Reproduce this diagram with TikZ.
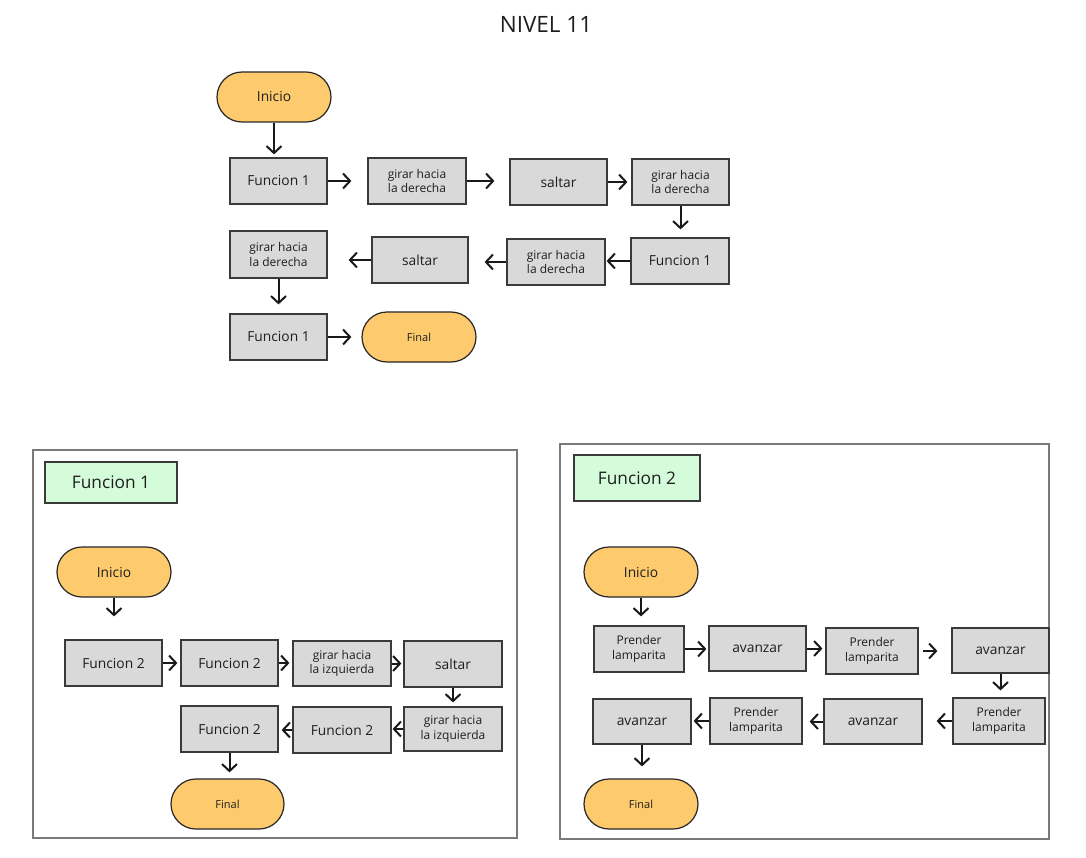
\documentclass[tikz,border=0pt]{standalone}
\usepackage{fontspec}
\setmainfont{Open Sans}
\usetikzlibrary{arrows.meta}
\definecolor{boxfill}{HTML}{D9D9D9}
\definecolor{boxline}{HTML}{3A3A3A}
\definecolor{termfill}{HTML}{FDCB6E}
\definecolor{labfill}{HTML}{D5FCDA}
\definecolor{framecol}{HTML}{7A7A7A}
\definecolor{txt}{HTML}{1E1E1E}
\tikzset{
  stepbox/.style={rectangle, draw=boxline, fill=boxfill, line width=1.2pt, inner sep=0pt, align=center, text=txt},
  bigtxt/.style={font=\fontsize{13.8}{16}\selectfont},
  smalltxt/.style={font=\fontsize{12}{14.5}\selectfont},
  term/.style={rectangle, rounded corners=25pt, draw=black!85, fill=termfill, line width=1.2pt, inner sep=0pt, minimum height=50pt, text=txt},
  fintxt/.style={font=\fontsize{11}{13}\selectfont},
  labbox/.style={rectangle, draw=boxline, fill=labfill, line width=1.2pt, inner sep=0pt, font=\fontsize{17.3}{20}\selectfont, text=txt},
  frame/.style={draw=framecol, line width=1.5pt},
  arr/.style={draw=black!90, line width=2pt, -{Straight Barb[length=7pt,width=15pt]}},
}
\begin{document}
\begin{tikzpicture}[x=1pt,y=-1pt]
\useasboundingbox (0,0) rectangle (1086,858);
\fill[white] (0,0) rectangle (1086,858);

\node[font=\fontsize{22.5}{26}\selectfont, text=txt] (title) at (546,24) {NIVEL 11};

% ---------- top flow ----------
\node[term, minimum width=114pt, bigtxt] (ini) at (274,97) {Inicio};
\node[stepbox, bigtxt, minimum width=97pt, minimum height=46pt] (f1a) at (278.5,181) {Funcion 1};
\node[stepbox, smalltxt, minimum width=98pt, minimum height=46pt] (g1) at (417,181) {girar hacia\\la derecha};
\node[stepbox, bigtxt, minimum width=97pt, minimum height=46pt] (s1) at (558.5,182) {saltar};
\node[stepbox, smalltxt, minimum width=97pt, minimum height=46pt] (g2) at (680.5,182) {girar hacia\\la derecha};
\node[stepbox, bigtxt, minimum width=98pt, minimum height=46pt] (f1b) at (680,261) {Funcion 1};
\node[stepbox, smalltxt, minimum width=98pt, minimum height=46pt] (g3) at (556,262) {girar hacia\\la derecha};
\node[stepbox, bigtxt, minimum width=96pt, minimum height=46pt] (s2) at (420,260) {saltar};
\node[stepbox, smalltxt, minimum width=97pt, minimum height=47pt] (g4) at (278.5,254.5) {girar hacia\\la derecha};
\node[stepbox, bigtxt, minimum width=97pt, minimum height=46pt] (f1c) at (278.5,337) {Funcion 1};
\node[term, minimum width=114pt, fintxt] (fin) at (419,337) {Final};

\draw[arr, shorten >=3pt] (ini.south) -- (ini.south |- f1a.north);
\draw[arr, shorten >=16pt] (f1a.east) -- (f1a.east -| g1.west);
\draw[arr, shorten >=15pt] (g1.east) -- (g1.east -| s1.west);
\draw[arr, shorten >=4pt] (s1.east) -- (s1.east -| g2.west);
\draw[arr, shorten >=8pt] (g2.south) -- (g2.south |- f1b.north);
\draw[arr, shorten >=1pt] (f1b.west) -- (f1b.west -| g3.east);
\draw[arr, shorten >=16pt] (g3.west) -- (g3.west -| s2.east);
\draw[arr, shorten >=21pt] (s2.west) -- (s2.west -| g4.east);
\draw[arr, shorten >=9pt] (g4.south) -- (g4.south |- f1c.north);
\draw[arr, shorten >=10pt] (f1c.east) -- (f1c.east -| fin.west);

% ---------- Funcion 1 panel ----------
\draw[frame] (33,450) rectangle (517,838);
\node[labbox, minimum width=132pt, minimum height=41pt] (lab1) at (111,482.5) {Funcion 1};
\node[term, minimum width=114pt, bigtxt] (ini2) at (114,572) {Inicio};
\node[stepbox, bigtxt, minimum width=97pt, minimum height=46pt] (f2a) at (113.5,663) {Funcion 2};
\node[stepbox, bigtxt, minimum width=97pt, minimum height=46pt] (f2b) at (229.5,663) {Funcion 2};
\node[stepbox, smalltxt, minimum width=98pt, minimum height=45pt] (gi1) at (342,663.5) {girar hacia\\la izquierda};
\node[stepbox, bigtxt, minimum width=98pt, minimum height=46pt] (sa) at (453,664) {saltar};
\node[stepbox, smalltxt, minimum width=98pt, minimum height=44pt] (gi2) at (453,729) {girar hacia\\la izquierda};
\node[stepbox, bigtxt, minimum width=98pt, minimum height=46pt] (f2c) at (342,730) {Funcion 2};
\node[stepbox, bigtxt, minimum width=97pt, minimum height=46pt] (f2d) at (229.5,729) {Funcion 2};
\node[term, minimum width=113pt, fintxt] (fin2) at (227.5,804) {Final};

\draw[arr, shorten >=23pt] (ini2.south) -- (ini2.south |- f2a.north);
\draw[arr, shorten >=3pt] (f2a.east) -- (f2a.east -| f2b.west);
\draw[arr, shorten >=3pt] (f2b.east) -- (f2b.east -| gi1.west);
\draw[arr, shorten >=2pt] (gi1.east) -- (gi1.east -| sa.west);
\draw[arr, shorten >=4pt] (sa.south) -- (sa.south |- gi2.north);
\draw[arr, shorten >=1pt] (gi2.west) -- (gi2.west -| f2c.east);
\draw[arr, shorten >=3pt] (f2c.west) -- (f2c.west -| f2d.east);
\draw[arr, shorten >=6pt] (f2d.south) -- (f2d.south |- fin2.north);

% ---------- Funcion 2 panel ----------
\draw[frame] (560,444) rectangle (1049,839);
\node[labbox, minimum width=126pt, minimum height=46pt] (lab2) at (637,478) {Funcion 2};
\node[term, minimum width=114pt, bigtxt] (ini3) at (641,572) {Inicio};
\node[stepbox, smalltxt, minimum width=90pt, minimum height=46pt] (p1) at (639,649) {Prender\\lamparita};
\node[stepbox, bigtxt, minimum width=97pt, minimum height=45pt] (av1) at (757.5,648.5) {avanzar};
\node[stepbox, smalltxt, minimum width=92pt, minimum height=46pt] (p2) at (872,651) {Prender\\lamparita};
\node[stepbox, bigtxt, minimum width=97pt, minimum height=45pt] (av2) at (1000.5,650.5) {avanzar};
\node[stepbox, smalltxt, minimum width=92pt, minimum height=46pt] (p3) at (999,721) {Prender\\lamparita};
\node[stepbox, bigtxt, minimum width=98pt, minimum height=45pt] (av3) at (873,721.5) {avanzar};
\node[stepbox, smalltxt, minimum width=92pt, minimum height=46pt] (p4) at (756,721) {Prender\\lamparita};
\node[stepbox, bigtxt, minimum width=98pt, minimum height=45pt] (av4) at (642,721.5) {avanzar};
\node[term, minimum width=114pt, fintxt] (fin3) at (641,804) {Final};

\draw[arr, shorten >=9pt] (ini3.south) -- (ini3.south |- p1.north);
\draw[arr, shorten >=2pt] (p1.east) -- (p1.east -| av1.west);
\draw[arr, shorten >=3pt] (av1.east) -- (av1.east -| p2.west);
\draw[arr, shorten <=4pt, shorten >=14pt] (p2.east) -- (p2.east -| av2.west);
\draw[arr, shorten >=7pt] (av2.south) -- (av2.south |- p3.north);
\draw[arr, shorten >=14pt] (p3.west) -- (p3.west -| av3.east);
\draw[arr, shorten >=7pt] (av3.west) -- (av3.west -| p4.east);
\draw[arr, shorten >=2pt] (p4.west) -- (p4.west -| av4.east);
\draw[arr, shorten >=12pt] (av4.south) -- (av4.south |- fin3.north);
\end{tikzpicture}
\end{document}
